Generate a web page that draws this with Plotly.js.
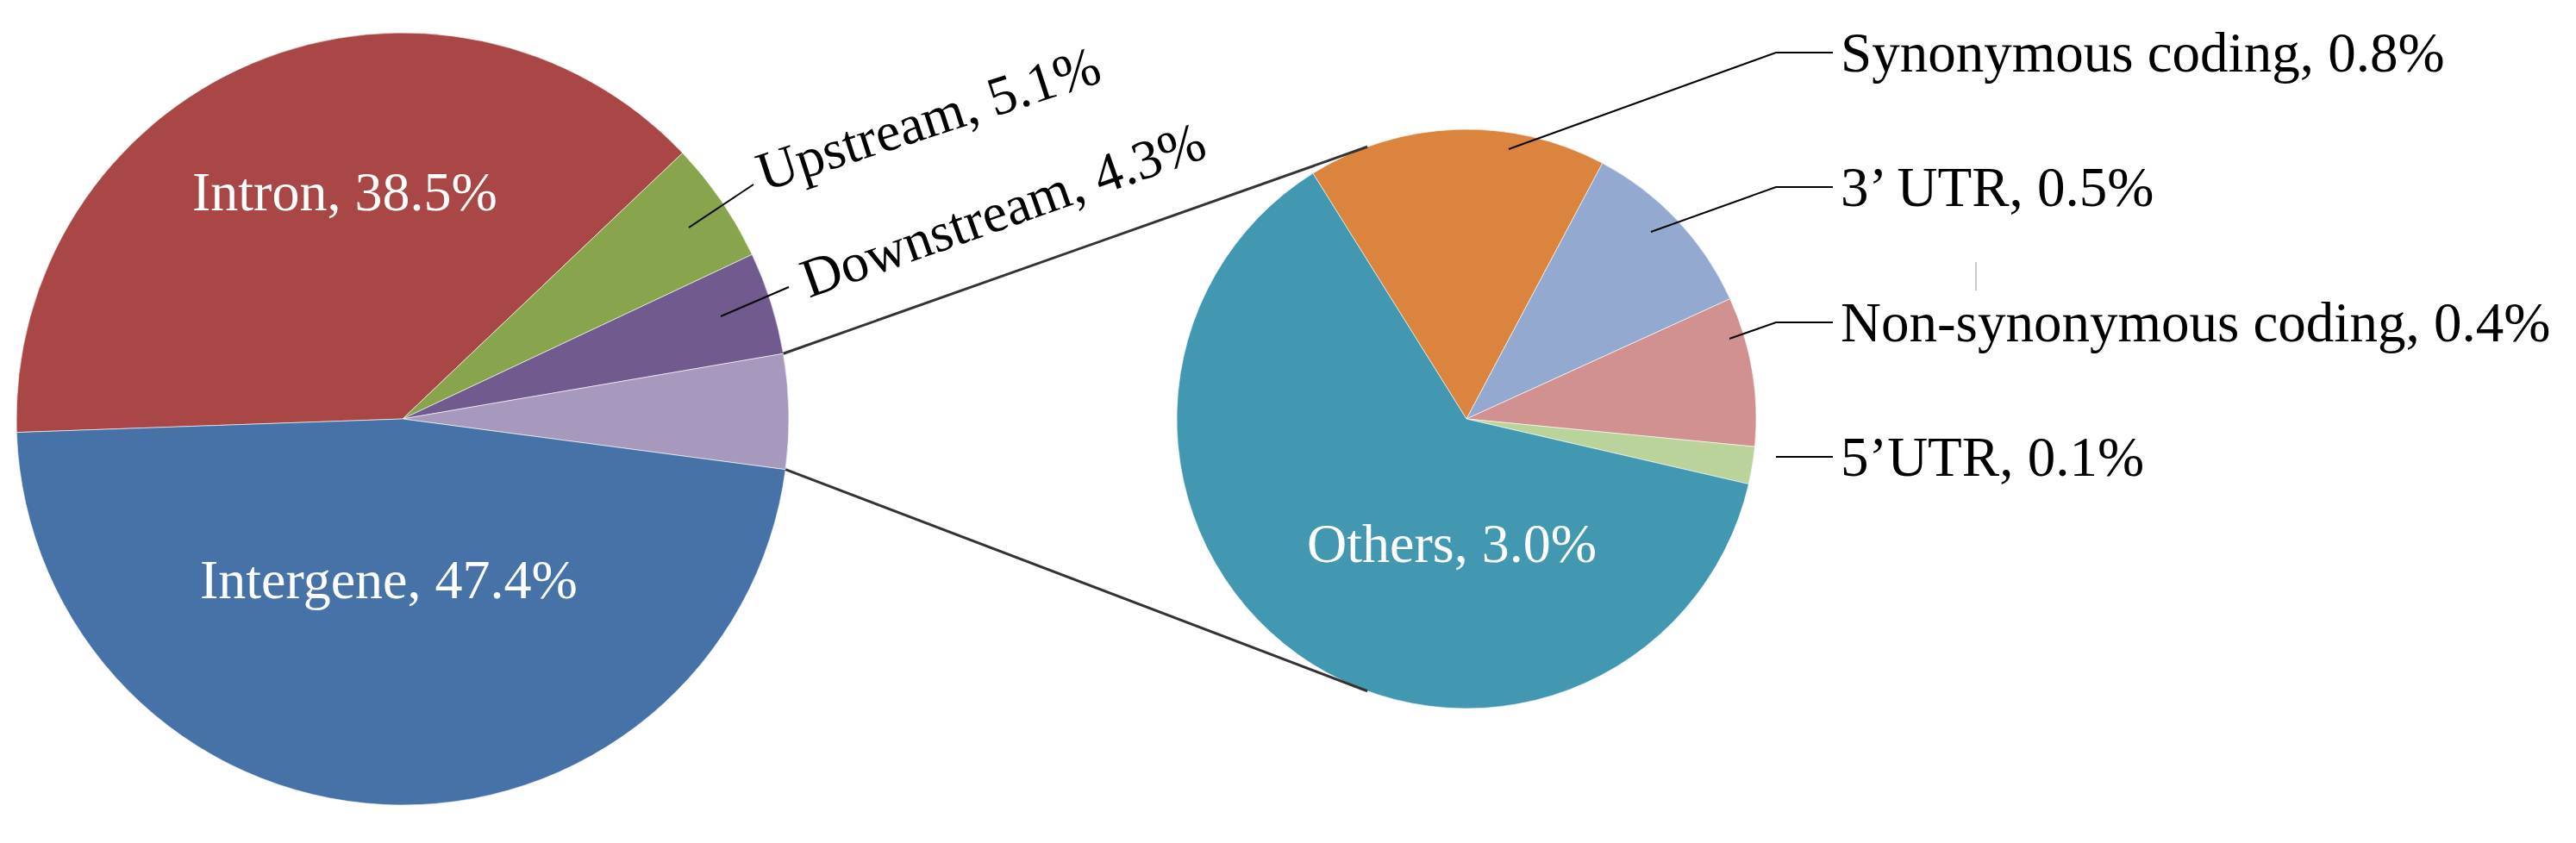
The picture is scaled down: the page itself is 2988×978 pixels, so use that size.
<!DOCTYPE html>
<html>
<head>
<meta charset="utf-8">
<script src="https://cdn.plot.ly/plotly-3.0.1.min.js"></script>
<style>
body { margin: 0; background: #fff; }
#chart { width: 2988px; height: 978px; }
</style>
</head>
<body>
<div id="chart"></div>
<script>
// main pie, clockwise from the left edge
let mainLabels = ["Intron", "Upstream", "Downstream", "Others", "Intergene"];
let mainValues = [38.5, 5.1, 4.3, 4.8, 47.4];
let mainColors = ["#A84745", "#88A54E", "#715A8E", "#A799BD", "#4672A7"];

// breakdown of the "Others" slice
let detailLabels = ["Synonymous coding", "3’ UTR", "Non-synonymous coding", "5’UTR", "Others"];
let detailValues = [0.8, 0.5, 0.4, 0.1, 3.0];
let detailColors = ["#DA843D", "#93A9D0", "#D19191", "#BAD39B", "#4398B1"];

let W = 2988;
let H = 978;
let fontFam = "Liberation Serif, Times New Roman, serif";

// pie placement in pixels, rot = plotly rotation
let leftPie = {cx: 467, cy: 486, r: 448, rot: -92};
let rightPie = {cx: 1701, cy: 486, r: 336, rot: -32};

function px(x) { return x / W; }
function py(y) { return 1 - y / H; }

function domainOf(p)
{
    return {
        x: [px(p.cx - p.r), px(p.cx + p.r)],
        y: [py(p.cy + p.r), py(p.cy - p.r)]
    };
}

// point on the rim, angle measured clockwise from 12 o'clock (degrees)
function rimPoint(p, deg)
{
    let a = deg * Math.PI / 180;
    return [p.cx + p.r * Math.sin(a), p.cy - p.r * Math.cos(a)];
}

// angle of the boundary after the first k slices
function edgeAngle(p, values, k)
{
    let total = 0, part = 0;
    for (let i = 0; i < values.length; i++) {
        total += values[i];
        if (i < k) part += values[i];
    }
    return p.rot + 360 * part / total;
}

function pct(v) { return v.toFixed(1) + "%"; }

function linePath(pts)
{
    let s = "";
    for (let i = 0; i < pts.length; i++) {
        s += (i === 0 ? "M " : " L ") + px(pts[i][0]) + "," + py(pts[i][1]);
    }
    return s;
}

function plotChart()
{
    let mainPie = {
        type: "pie",
        labels: mainLabels,
        values: mainValues,
        sort: false,
        direction: "clockwise",
        rotation: leftPie.rot,
        domain: domainOf(leftPie),
        marker: {colors: mainColors, line: {color: "rgba(255,255,255,0.6)", width: 1}},
        textinfo: "none",
        hoverinfo: "none",
        showlegend: false
    };
    let detailPie = {
        type: "pie",
        labels: detailLabels,
        values: detailValues,
        sort: false,
        direction: "clockwise",
        rotation: rightPie.rot,
        domain: domainOf(rightPie),
        marker: {colors: detailColors, line: {color: "rgba(255,255,255,0.6)", width: 1}},
        textinfo: "none",
        hoverinfo: "none",
        showlegend: false
    };

    // connectors from the combined slice to the detail pie
    let othersIdx = mainLabels.indexOf("Others");
    let topStart = rimPoint(leftPie, edgeAngle(leftPie, mainValues, othersIdx));
    let botStart = rimPoint(leftPie, edgeAngle(leftPie, mainValues, othersIdx + 1));
    let topEnd = rimPoint(rightPie, -20);
    let botEnd = rimPoint(rightPie, 200);

    let shapes = [
        {type: "path", xref: "paper", yref: "paper", path: linePath([topStart, topEnd]),
         line: {color: "#333", width: 3}},
        {type: "path", xref: "paper", yref: "paper", path: linePath([botStart, botEnd]),
         line: {color: "#333", width: 3}}
    ];

    // leader lines (pixels)
    let leaders = [
        [[799, 264], [874, 214]],
        [[836, 367], [915, 333]],
        [[1750, 173], [2060, 61], [2126, 61]],
        [[1915, 269], [2060, 217], [2126, 217]],
        [[2006, 393], [2060, 374], [2126, 374]],
        [[2060, 530], [2126, 530]]
    ];
    for (let i = 0; i < leaders.length; i++) {
        shapes.push({type: "path", xref: "paper", yref: "paper", path: linePath(leaders[i]),
                     line: {color: "#000", width: 2}});
    }
    // faint stray mark in the original
    shapes.push({type: "line", xref: "paper", yref: "paper",
                 x0: px(2292), x1: px(2292), y0: py(304), y1: py(337),
                 line: {color: "#c8c8c8", width: 2}});

    let annotations = [];
    function addLabel(text, x, y, color, anchor, angle, size)
    {
        annotations.push({
            text: text, xref: "paper", yref: "paper",
            x: px(x), y: py(y), xanchor: anchor, yanchor: "middle",
            textangle: angle, showarrow: false,
            font: {family: fontFam, size: size, color: color}
        });
    }

    addLabel(mainLabels[0] + ", " + pct(mainValues[0]), 400, 223, "#fff", "center", 0, 64);
    addLabel(mainLabels[4] + ", " + pct(mainValues[4]), 451, 672, "#fff", "center", 0, 64);
    addLabel(mainLabels[1] + ", " + pct(mainValues[1]), 1077, 138, "#000", "center", -18, 64);
    addLabel(mainLabels[2] + ", " + pct(mainValues[2]), 1163, 243, "#000", "center", -19.5, 64);
    addLabel(detailLabels[4] + ", " + pct(detailValues[4]), 1684, 630, "#fff", "center", 0, 64);

    let rightY = [61, 217, 374, 530];
    for (let i = 0; i < 4; i++) {
        addLabel(detailLabels[i] + ", " + pct(detailValues[i]), 2133, rightY[i], "#000", "left", 0, 65);
    }

    let layout = {
        width: W,
        height: H,
        margin: {l: 0, r: 0, t: 0, b: 0},
        paper_bgcolor: "#fff",
        plot_bgcolor: "#fff",
        showlegend: false,
        shapes: shapes,
        annotations: annotations
    };

    Plotly.newPlot("chart", [mainPie, detailPie], layout, {staticPlot: true});
}

plotChart();
</script>
</body>
</html>
